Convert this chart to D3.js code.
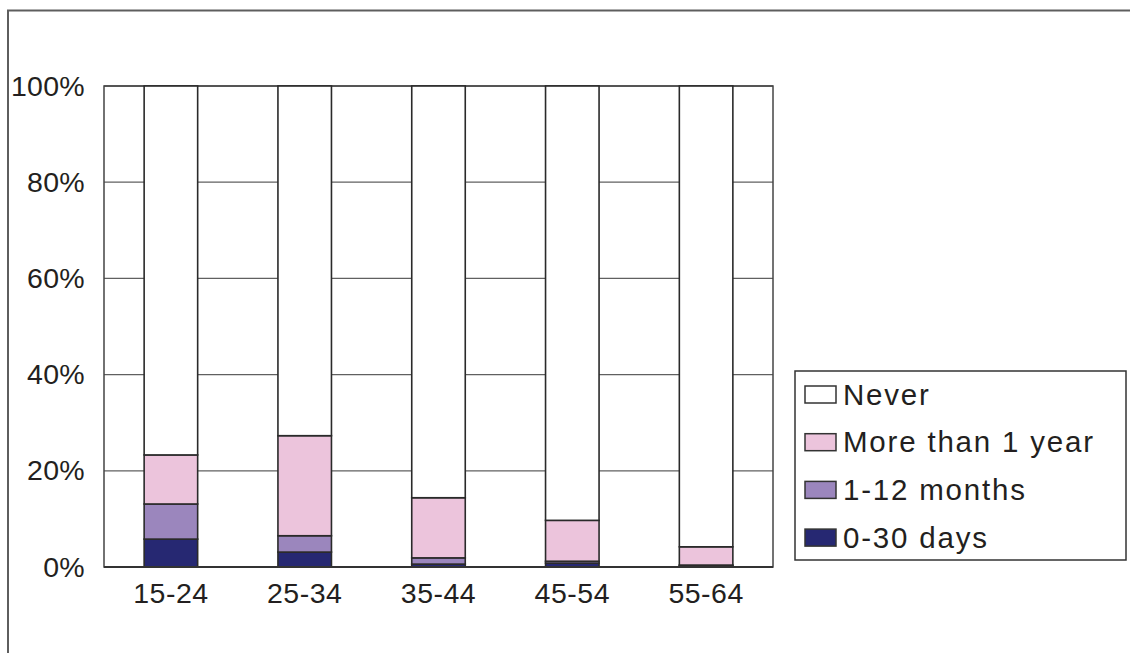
<!DOCTYPE html>
<html>
<head>
<meta charset="utf-8">
<script src="https://cdn.jsdelivr.net/npm/d3@7"></script>
<style>
  html, body { margin: 0; padding: 0; background: #fff; }
  svg { display: block; font-family: "Liberation Sans", Arial, sans-serif; }
</style>
</head>
<body>
<svg id="chart" width="1130" height="653"></svg>
<script>
// Age groups along the x axis
const ageGroups = ["15-24", "25-34", "35-44", "45-54", "55-64"];

// Share of each age group (percent) by time since last use
const days0to30     = [5.8, 3.1, 0.6, 0.8, 0.3];
const months1to12   = [7.3, 3.4, 1.3, 0.4, 0.1];
const moreThan1Year = [10.2, 20.8, 12.5, 8.5, 3.8];
const never         = [76.7, 72.7, 85.6, 90.3, 95.8];

const seriesNames = ["0-30 days", "1-12 months", "More than 1 year", "Never"];
const seriesValues = [days0to30, months1to12, moreThan1Year, never];
const seriesColors = ["#262872", "#9b86bd", "#ecc4dc", "#ffffff"];

const yTicks = [0, 20, 40, 60, 80, 100];

const svg = d3.select("#chart");

// outer frame (runs off the right and bottom edges)
svg.append("path")
  .attr("d", "M8,660 L8,10.5 L1140,10.5")
  .attr("fill", "none")
  .attr("stroke", "#5e5e5e")
  .attr("stroke-width", 2);

const plot = { left: 104, right: 773, top: 86, bottom: 567 };

const x = d3.scaleBand()
  .domain(ageGroups)
  .range([plot.left, plot.right])
  .paddingInner(0.6)
  .paddingOuter(0.3);

const y = d3.scaleLinear()
  .domain([0, 100])
  .range([plot.bottom, plot.top]);

// horizontal gridlines
svg.append("g")
  .selectAll("line")
  .data(yTicks.filter(t => t > 0))
  .join("line")
  .attr("x1", plot.left).attr("x2", plot.right)
  .attr("y1", d => y(d)).attr("y2", d => y(d))
  .attr("stroke", "#606060")
  .attr("stroke-width", 1.3);

// plot area border
svg.append("rect")
  .attr("x", plot.left).attr("y", plot.top)
  .attr("width", plot.right - plot.left)
  .attr("height", plot.bottom - plot.top)
  .attr("fill", "none")
  .attr("stroke", "#444")
  .attr("stroke-width", 1.5);

// stacked bars
const rows = ageGroups.map((g, i) => {
  const row = { group: g };
  seriesNames.forEach((s, k) => { row[s] = seriesValues[k][i]; });
  return row;
});
const stacked = d3.stack().keys(seriesNames)(rows);

svg.append("g")
  .selectAll("g")
  .data(stacked)
  .join("g")
  .attr("fill", (d, i) => seriesColors[i])
  .selectAll("rect")
  .data(d => d)
  .join("rect")
  .attr("x", d => x(d.data.group))
  .attr("width", x.bandwidth())
  .attr("y", d => y(d[1]))
  .attr("height", d => y(d[0]) - y(d[1]))
  .attr("stroke", "#2a2a2a")
  .attr("stroke-width", 1.6);

// bottom axis line
svg.append("line")
  .attr("x1", plot.left).attr("x2", plot.right)
  .attr("y1", plot.bottom).attr("y2", plot.bottom)
  .attr("stroke", "#333")
  .attr("stroke-width", 1.8);

// y axis labels
const yAxis = d3.axisLeft(y)
  .tickValues(yTicks)
  .tickFormat(d => d + "%")
  .tickSize(0)
  .tickPadding(19);
const gy = svg.append("g")
  .attr("transform", `translate(${plot.left},0)`)
  .call(yAxis);
gy.select(".domain").remove();
gy.selectAll("text")
  .attr("font-size", 28.5)
  .attr("font-family", "Liberation Sans, Arial, sans-serif")
  .attr("letter-spacing", 0.3)
  .attr("fill", "#231f20");

// x axis labels
const xAxis = d3.axisBottom(x).tickSize(0).tickPadding(16);
const gx = svg.append("g")
  .attr("transform", `translate(0,${plot.bottom})`)
  .call(xAxis);
gx.select(".domain").remove();
gx.selectAll("text")
  .attr("font-size", 28.5)
  .attr("font-family", "Liberation Sans, Arial, sans-serif")
  .attr("letter-spacing", 0.5)
  .attr("fill", "#231f20");

// legend
const legend = svg.append("g");
legend.append("rect")
  .attr("x", 795).attr("y", 371)
  .attr("width", 331).attr("height", 189)
  .attr("fill", "#fff")
  .attr("stroke", "#333")
  .attr("stroke-width", 1.5);

const legendOrder = [3, 2, 1, 0];
const items = legend.selectAll("g.item")
  .data(legendOrder)
  .join("g")
  .attr("class", "item")
  .attr("transform", (d, i) => `translate(805,${386 + i * 47.7})`);

items.append("rect")
  .attr("width", 31).attr("height", 17)
  .attr("fill", d => seriesColors[d])
  .attr("stroke", "#333")
  .attr("stroke-width", 1.5);

items.append("text")
  .attr("x", 38)
  .attr("y", 18.5)
  .attr("font-size", 29.5)
  .attr("letter-spacing", 1.8)
  .attr("fill", "#231f20")
  .text(d => seriesNames[d]);
</script>
</body>
</html>
